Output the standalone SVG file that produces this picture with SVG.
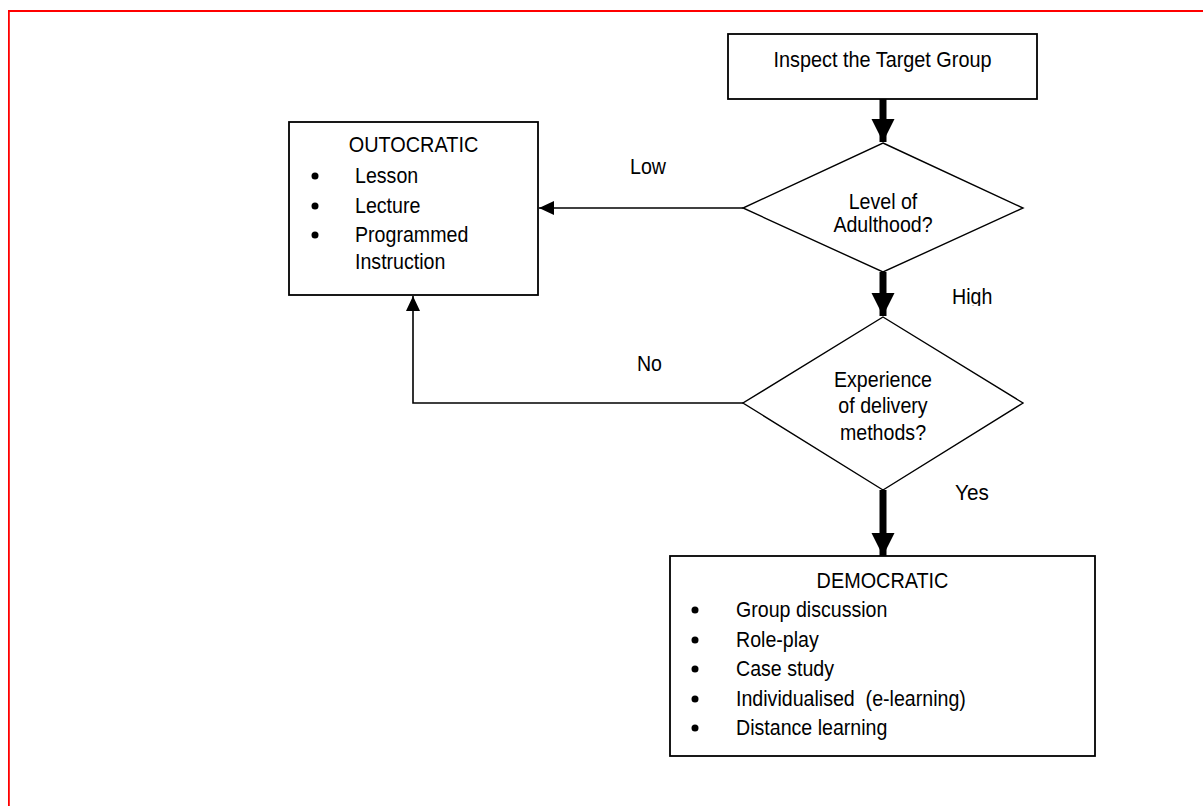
<svg xmlns="http://www.w3.org/2000/svg" width="1203" height="806" viewBox="0 0 1203 806">
  <style>
    text { font-family: "Liberation Sans", Arial, sans-serif; font-size: 22px; fill: #000; }
    .c { text-anchor: middle; }
    .box { fill: #fff; stroke: #000; stroke-width: 1.8; }
    .dia { fill: #fff; stroke: #000; stroke-width: 1.4; }
    .thick { fill: none; stroke: #000; stroke-width: 7; }
    .thin { fill: none; stroke: #000; stroke-width: 1.6; }
    .frame { fill: none; stroke: #ff0000; stroke-width: 1.8; }
  </style>
  <defs>
    <marker id="bigHead" markerUnits="userSpaceOnUse" markerWidth="24" markerHeight="24" refX="23" refY="11.5" orient="auto">
      <path d="M0,0 L23,11.5 L0,23 Z" fill="#000"/>
    </marker>
    <marker id="smallHead" markerUnits="userSpaceOnUse" markerWidth="16" markerHeight="16" refX="15" refY="7" orient="auto">
      <path d="M0,0 L15,7 L0,14 Z" fill="#000"/>
    </marker>
    <clipPath id="clipHigh"><rect x="940" y="280" width="80" height="26"/></clipPath>
    <clipPath id="clipMethods"><rect x="820" y="420" width="130" height="21"/></clipPath>
  </defs>

  <rect width="1203" height="806" fill="#fff"/>

  <!-- page frame -->
  <path class="frame" d="M1203,11 H8.9 V806"/>

  <!-- connectors -->
  <g id="connectors">
    <path class="thick" d="M883,99 V142" marker-end="url(#bigHead)"/>
    <path class="thick" d="M883,272 V316" marker-end="url(#bigHead)"/>
    <path class="thick" d="M883,490 V556" marker-end="url(#bigHead)"/>
    <path class="thin" d="M743,208 H539" marker-end="url(#smallHead)"/>
    <path class="thin" d="M743,403 H413 V296" marker-end="url(#smallHead)"/>
    <text x="630" y="174" textLength="36" lengthAdjust="spacingAndGlyphs">Low</text>
    <text x="637" y="371" textLength="25" lengthAdjust="spacingAndGlyphs">No</text>
    <text x="952" y="304" textLength="40.3" lengthAdjust="spacingAndGlyphs" clip-path="url(#clipHigh)">High</text>
    <text x="955" y="500" textLength="33.8" lengthAdjust="spacingAndGlyphs">Yes</text>
  </g>

  <!-- start -->
  <g id="inspect">
    <rect class="box" x="728" y="34" width="309" height="65"/>
    <text class="c" x="882.5" y="67" textLength="218" lengthAdjust="spacingAndGlyphs">Inspect the Target Group</text>
  </g>

  <!-- first decision -->
  <g id="adulthood">
    <polygon class="dia" points="883,143 1023,208 883,272 743,208"/>
    <text class="c" x="883" y="209" textLength="68.6" lengthAdjust="spacingAndGlyphs">Level of</text>
    <text class="c" x="883" y="232" textLength="99.2" lengthAdjust="spacingAndGlyphs">Adulthood?</text>
  </g>

  <!-- second decision -->
  <g id="experience">
    <polygon class="dia" points="883,317 1023,403 883,490 743,403"/>
    <text class="c" x="883" y="387" textLength="98" lengthAdjust="spacingAndGlyphs">Experience</text>
    <text class="c" x="883" y="413" textLength="89.3" lengthAdjust="spacingAndGlyphs">of delivery</text>
    <text class="c" x="883" y="440" textLength="86.1" lengthAdjust="spacingAndGlyphs" clip-path="url(#clipMethods)">methods?</text>
  </g>

  <!-- autocratic methods -->
  <g id="outocratic">
    <rect class="box" x="289" y="122" width="249" height="173"/>
    <text class="c" x="413.5" y="152" textLength="129.6" lengthAdjust="spacingAndGlyphs">OUTOCRATIC</text>
    <circle cx="315" cy="176" r="3.5"/>
    <circle cx="315" cy="206" r="3.5"/>
    <circle cx="315" cy="235" r="3.5"/>
    <text x="355" y="183" textLength="63.2" lengthAdjust="spacingAndGlyphs">Lesson</text>
    <text x="355" y="213" textLength="65.4" lengthAdjust="spacingAndGlyphs">Lecture</text>
    <text x="355" y="242" textLength="113.3" lengthAdjust="spacingAndGlyphs">Programmed</text>
    <text x="355" y="269" textLength="90.4" lengthAdjust="spacingAndGlyphs">Instruction</text>
  </g>

  <!-- democratic methods -->
  <g id="democratic">
    <rect class="box" x="670" y="556" width="425" height="200"/>
    <text class="c" x="882.5" y="588" textLength="131.8" lengthAdjust="spacingAndGlyphs">DEMOCRATIC</text>
    <circle cx="695" cy="610" r="3.5"/>
    <circle cx="695" cy="640" r="3.5"/>
    <circle cx="695" cy="669" r="3.5"/>
    <circle cx="695" cy="699" r="3.5"/>
    <circle cx="695" cy="728" r="3.5"/>
    <text x="736" y="617" textLength="151.4" lengthAdjust="spacingAndGlyphs">Group discussion</text>
    <text x="736" y="647" textLength="82.8" lengthAdjust="spacingAndGlyphs">Role-play</text>
    <text x="736" y="676" textLength="98" lengthAdjust="spacingAndGlyphs">Case study</text>
    <text x="736" y="706" textLength="229.8" lengthAdjust="spacingAndGlyphs" xml:space="preserve">Individualised  (e-learning)</text>
    <text x="736" y="735" textLength="151.4" lengthAdjust="spacingAndGlyphs">Distance learning</text>
  </g>
</svg>
